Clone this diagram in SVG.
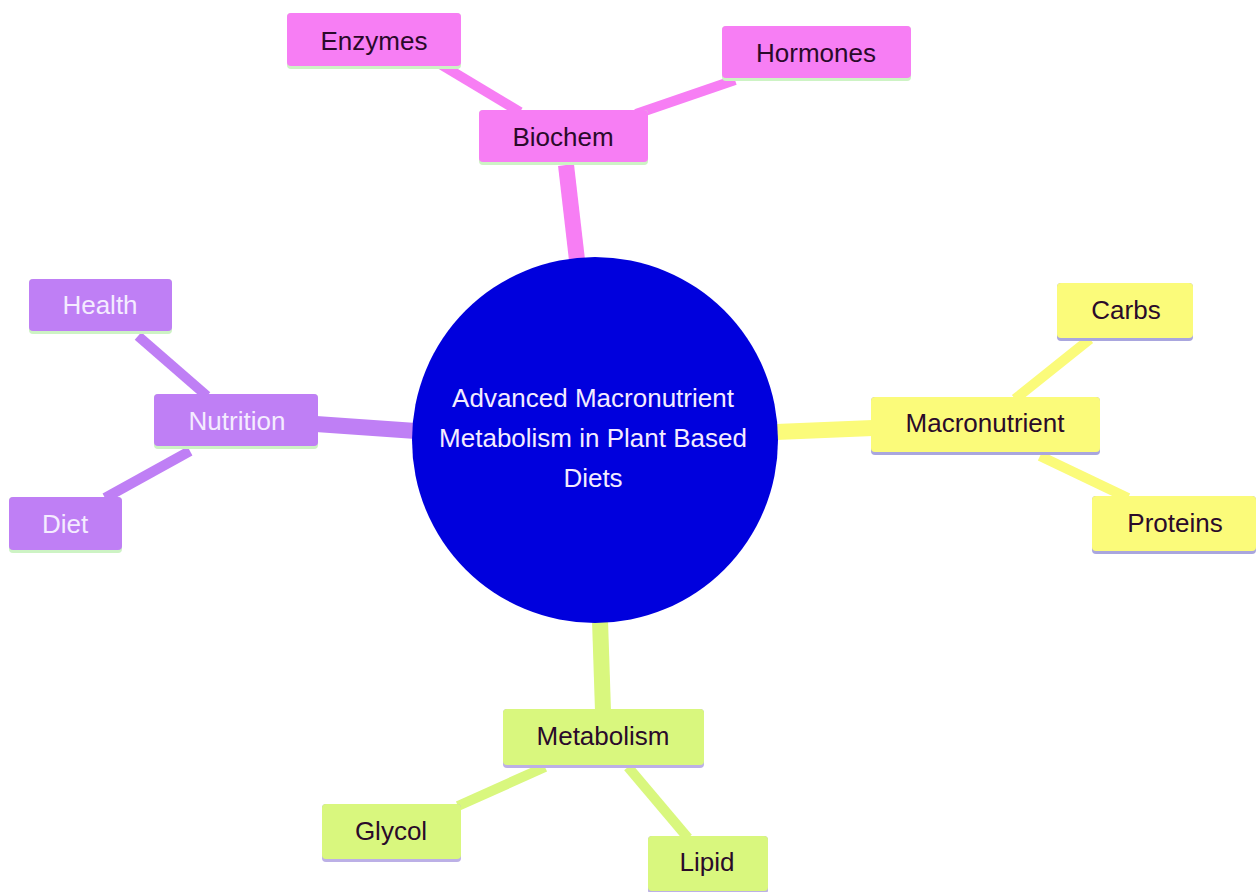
<svg xmlns="http://www.w3.org/2000/svg" width="1260" height="892" viewBox="0 0 1260 892">
<style>
text{font-family:"Liberation Sans",Arial,sans-serif;font-size:26px;text-anchor:middle;dominant-baseline:central}
.e{fill:none;stroke-linecap:butt}
.pk{fill:#f77ef4}.pu{fill:#bf7ff5}.ye{fill:#fbfb7a}.gr{fill:#d9f77e}
.dk{fill:#2a0a2a}.lt{fill:#f4ecff}
</style>
<rect width="1260" height="892" fill="#ffffff"/>
<g id="connectors">
<line class="e" x1="566" y1="165" x2="577" y2="260" stroke="#f77ef4" stroke-width="16"/>
<line class="e" x1="440" y1="64" x2="520" y2="112" stroke="#f77ef4" stroke-width="10"/>
<line class="e" x1="735" y1="80" x2="636" y2="114" stroke="#f77ef4" stroke-width="10"/>
<line class="e" x1="316" y1="424" x2="416" y2="431" stroke="#bf7ff5" stroke-width="16"/>
<line class="e" x1="138" y1="336" x2="207" y2="396" stroke="#bf7ff5" stroke-width="10"/>
<line class="e" x1="105" y1="498" x2="190" y2="451" stroke="#bf7ff5" stroke-width="10"/>
<line class="e" x1="776" y1="432" x2="873" y2="428" stroke="#fbfb7a" stroke-width="16"/>
<line class="e" x1="1090" y1="339" x2="1015" y2="399" stroke="#fbfb7a" stroke-width="10"/>
<line class="e" x1="1040" y1="456" x2="1128" y2="498" stroke="#fbfb7a" stroke-width="10"/>
<line class="e" x1="600" y1="620" x2="603" y2="711" stroke="#d9f77e" stroke-width="16"/>
<line class="e" x1="458" y1="806" x2="545" y2="767" stroke="#d9f77e" stroke-width="10"/>
<line class="e" x1="628" y1="767" x2="688" y2="838" stroke="#d9f77e" stroke-width="10"/>
</g>
<g id="root">
<circle cx="595" cy="440" r="183" fill="#0000dd"/>
<text x="593" y="398" class="lt">Advanced Macronutrient</text>
<text x="593" y="438" class="lt">Metabolism in Plant Based</text>
<text x="593" y="478" class="lt">Diets</text>
</g>
<g id="biochem">
<rect x="479" y="110" width="169" height="55" rx="4" fill="#cdf3c4"/>
<rect x="479" y="110" width="169" height="52" rx="4" class="pk"/>
<text x="563" y="137" class="dk">Biochem</text>
</g>
<g id="enzymes">
<rect x="287" y="13" width="174" height="56" rx="4" fill="#cdf3c4"/>
<rect x="287" y="13" width="174" height="53" rx="4" class="pk"/>
<text x="374" y="41" class="dk">Enzymes</text>
</g>
<g id="hormones">
<rect x="722" y="26" width="189" height="55" rx="4" fill="#cdf3c4"/>
<rect x="722" y="26" width="189" height="52" rx="4" class="pk"/>
<text x="816" y="53" class="dk">Hormones</text>
</g>
<g id="nutrition">
<rect x="154" y="394" width="164" height="55" rx="4" fill="#cdf3c4"/>
<rect x="154" y="394" width="164" height="52" rx="4" class="pu"/>
<text x="237" y="421" class="lt">Nutrition</text>
</g>
<g id="health">
<rect x="29" y="279" width="143" height="55" rx="4" fill="#cdf3c4"/>
<rect x="29" y="279" width="143" height="52" rx="4" class="pu"/>
<text x="100" y="305" class="lt">Health</text>
</g>
<g id="diet">
<rect x="9" y="497" width="113" height="56" rx="4" fill="#cdf3c4"/>
<rect x="9" y="497" width="113" height="53" rx="4" class="pu"/>
<text x="65" y="524" class="lt">Diet</text>
</g>
<g id="macronutrient">
<rect x="871" y="397" width="229" height="58" rx="4" fill="#a9a6de"/>
<rect x="871" y="397" width="229" height="55" rx="4" class="ye"/>
<text x="985" y="423" class="dk">Macronutrient</text>
</g>
<g id="carbs">
<rect x="1057" y="283" width="136" height="58" rx="4" fill="#a9a6de"/>
<rect x="1057" y="283" width="136" height="55" rx="4" class="ye"/>
<text x="1126" y="310" class="dk">Carbs</text>
</g>
<g id="proteins">
<rect x="1092" y="496" width="164" height="58" rx="4" fill="#a9a6de"/>
<rect x="1092" y="496" width="164" height="55" rx="4" class="ye"/>
<text x="1175" y="523" class="dk">Proteins</text>
</g>
<g id="metabolism">
<rect x="503" y="709" width="201" height="59" rx="4" fill="#bcb0e6"/>
<rect x="503" y="709" width="201" height="56" rx="4" class="gr"/>
<text x="603" y="736" class="dk">Metabolism</text>
</g>
<g id="glycol">
<rect x="322" y="804" width="139" height="58" rx="4" fill="#bcb0e6"/>
<rect x="322" y="804" width="139" height="55" rx="4" class="gr"/>
<text x="391" y="831" class="dk">Glycol</text>
</g>
<g id="lipid">
<rect x="648" y="836" width="120" height="58" rx="4" fill="#bcb0e6"/>
<rect x="648" y="836" width="120" height="55" rx="4" class="gr"/>
<text x="707" y="862" class="dk">Lipid</text>
</g>
</svg>
